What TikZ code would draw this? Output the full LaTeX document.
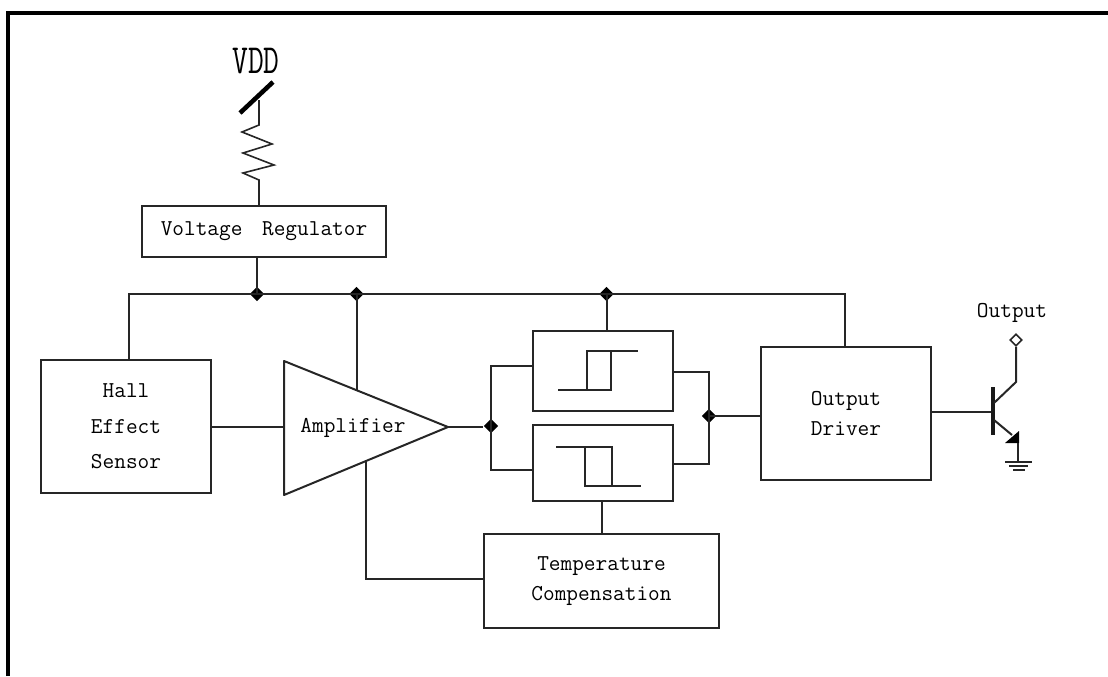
\documentclass[tikz,border=0pt]{standalone}
\usepackage{fontspec}
\usetikzlibrary{shapes.geometric}
\tikzset{
  wire/.style={line width=1.5pt,black!85,line join=miter},
  thinwire/.style={line width=1.2pt,black!85},
  blockbox/.style={draw=black!85,line width=1.5pt,fill=white,inner sep=0pt,align=center,font=\ttfamily\fontsize{17}{22}\selectfont},
  junction/.style={diamond,fill=black,inner sep=0pt,minimum size=11pt},
  plain/.style={inner sep=0pt,font=\ttfamily\fontsize{17}{18}\selectfont}
}
\begin{document}
\begin{tikzpicture}[x=0.75pt,y=-0.75pt]
\useasboundingbox (0,0) rectangle (1108,676);
\draw[line width=3pt] (8,676) -- (8,13) -- (1108,13);
% blocks
\node[blockbox,minimum width=183pt,minimum height=38pt] (reg) at (264,231.5) {Voltage\ \hspace{6pt}Regulator};
\node[blockbox,minimum width=127.5pt,minimum height=100pt,font=\ttfamily\fontsize{17}{26.5}\selectfont] (hall) at (126,426.5) {Hall\\Effect\\Sensor};
\node[plain] (amp) at (353,428) {Amplifier};
\coordinate (a1) at (284,361); \coordinate (a2) at (284,495); \coordinate (a3) at (448,427);
\draw[wire,line join=round] (a1) -- (a3) -- (a2) -- cycle;
\node[blockbox,minimum width=105pt,minimum height=60pt] (up) at (603,371) {};
\node[blockbox,minimum width=105pt,minimum height=57pt] (dn) at (603,463) {};
\node[blockbox,minimum width=176pt,minimum height=70.5pt] (temp) at (601.5,581) {Temperature\\Compensation};
\node[blockbox,minimum width=127.5pt,minimum height=100pt,font=\ttfamily\fontsize{17}{23}\selectfont] (drv) at (846,413.5) {Output\\Driver};
% junctions and bus
\coordinate (busL) at (129,294);
\coordinate (busR) at (845,294);
\node[junction] (j1) at (257,294) {};
\node[junction] (j2) at (356.5,294) {};
\node[junction] (j3) at (606.5,294) {};
\node[junction] (jL) at (491,426) {};
\node[junction] (jR) at (709,416) {};
\draw[wire] (hall.north -| busL) -- (busL) -- (busR) -- (drv.north -| busR);
\draw[wire] (reg.south -| j1) -- (j1.center);
\draw[wire] (j2.center) -- (356.5,391);
\draw[wire] (j3.center) -- (up.north -| j3);
% signals
\coordinate (ampin) at (284,427);
\draw[wire] (hall.east |- ampin) -- (ampin);
\draw[wire] (a3) -- (jL.west |- a3);
\draw[wire] (up.west |- 0,366) -| (jL.center) |- (dn.west |- 0,470);
\draw[wire] (up.east |- 0,372) -| (jR.center) |- (dn.east |- 0,464);
\draw[wire] (jR.center) -- (drv.west |- jR);
\draw[wire] (dn.south -| temp) -- (temp.north);
\draw[wire] (365.5,462) |- (temp.west |- 0,579);
% hysteresis symbols
\draw[wire] (558,390) -- (611,390) -- (611,351);
\draw[wire] (587,390) -- (587,351) -- (638,351);
\draw[wire] (556,447) -- (612,447) -- (612,486);
\draw[wire] (585,447) -- (585,486) -- (641,486);
% VDD and resistor
\node[inner sep=0pt,font=\ttfamily\fontsize{23}{24}\selectfont] (vdd) at (256,61) {\scalebox{1}[1.35]{VDD}};
\coordinate (vbar) at (259,100);
\draw[line width=3.4pt,black] (240,113) -- (273,82);
\draw[thinwire] (vbar) -- (259,125) -- (242,132) -- (272,144) -- (243,153) -- (274,165) -- (243,173) -- (259,180) -- (reg.north -| vbar);
% transistor
\node[plain] (outl) at (1012,313) {Output};
\node[draw=black!85,line width=1.2pt,fill=white,diamond,inner sep=0pt,minimum size=9pt] (pin) at (1016,340) {};
\coordinate (base) at (993,412);
\draw[wire] (drv.east |- base) -- (base);
\draw[line width=3pt,black!90] (993,387) -- (993,435);
\draw[wire] (pin.south) -- (1016,382) -- (994,403);
\draw[wire] (994,420) -- (1012,435);
\fill[black] (1019,431) -- (1019,443) -- (1005,443) -- cycle;
\draw[wire] (1018,443) -- (1018,462);
\draw[wire] (1005,462) -- (1032,462);
\draw[wire] (1009,466) -- (1028,466);
\draw[wire] (1013,470) -- (1025,470);
\end{tikzpicture}
\end{document}
